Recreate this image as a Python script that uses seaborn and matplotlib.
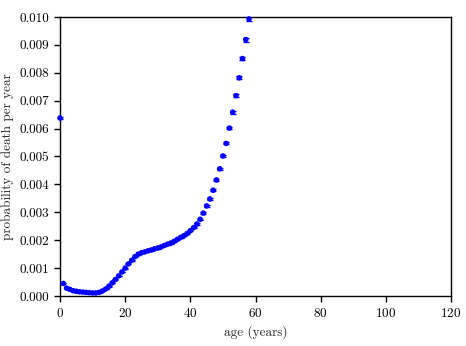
import numpy as np
import pandas as pd
import matplotlib
matplotlib.use("Agg")
import matplotlib.pyplot as plt
import seaborn as sns

# Annual probability of death by age, with standard errors
ages = list(range(0, 59))
death_prob = [
    0.00638, 0.00045, 0.00028, 0.00024, 0.00019, 0.00017, 0.00015, 0.00014,
    0.00013, 0.00012, 0.00011, 0.00011, 0.00013, 0.00018, 0.00025, 0.00035,
    0.00047, 0.00059, 0.00072, 0.00086, 0.00100, 0.00115, 0.00128, 0.00141,
    0.00150, 0.00155, 0.00158, 0.00162, 0.00165, 0.00169, 0.00172, 0.00176,
    0.00181, 0.00186, 0.00190, 0.00196, 0.00203, 0.00210, 0.00216, 0.00224,
    0.00234, 0.00245, 0.00258, 0.00275, 0.00297, 0.00323, 0.00348, 0.00379,
    0.00416, 0.00456, 0.00502, 0.00547, 0.00602, 0.00659, 0.00718, 0.00782,
    0.00851, 0.00919, 0.00993,
]
std_err = [
    0.00002, 0.00001, 0.00001, 0.00001, 0.00001, 0.00001, 0.00001, 0.00001,
    0.00001, 0.00001, 0.00001, 0.00001, 0.00001, 0.00001, 0.00001, 0.00001,
    0.00001, 0.00001, 0.00001, 0.00001, 0.00002, 0.00002, 0.00002, 0.00002,
    0.00002, 0.00002, 0.00002, 0.00002, 0.00002, 0.00002, 0.00002, 0.00002,
    0.00002, 0.00002, 0.00002, 0.00002, 0.00002, 0.00002, 0.00002, 0.00002,
    0.00002, 0.00002, 0.00002, 0.00002, 0.00003, 0.00003, 0.00003, 0.00003,
    0.00003, 0.00004, 0.00004, 0.00004, 0.00004, 0.00005, 0.00005, 0.00005,
    0.00006, 0.00007, 0.00008,
]

df = pd.DataFrame({"age": ages, "prob": death_prob, "err": std_err})

sns.set_theme(style="ticks")
plt.rcParams["font.family"] = ["cmr10", "DejaVu Serif"]
plt.rcParams["axes.formatter.use_mathtext"] = True
plt.rcParams["mathtext.fontset"] = "cm"

fig = plt.figure(figsize=(4.66, 3.46), dpi=100)
ax = fig.add_axes([0.1288, 0.1445, 0.8390, 0.8064])

ax.errorbar(df["age"], df["prob"], yerr=df["err"], fmt="none",
            ecolor="#0000ff", elinewidth=1.0, capsize=2.0, capthick=1.0,
            zorder=2)
sns.scatterplot(data=df, x="age", y="prob", ax=ax, color="#0000ff",
                s=16, edgecolor="none", linewidth=0, zorder=3, clip_on=False)

ax.set_xlim(0, 120)
ax.set_ylim(0, 0.010)
ax.set_xticks([0, 20, 40, 60, 80, 100, 120])
ax.set_yticks(np.arange(0, 0.0101, 0.001))
ax.set_yticklabels([f"{v:.3f}" for v in np.arange(0, 0.0101, 0.001)])

for sp in ax.spines.values():
    sp.set_visible(True)
    sp.set_color("black")
    sp.set_linewidth(1.0)

ax.tick_params(axis="both", direction="out", length=4, width=1.0,
               labelsize=9.5, colors="black", pad=4)
ax.tick_params(top=False, right=False)

ax.set_xlabel("age (years)", fontsize=9.5)
ax.set_ylabel("probability of death per year", fontsize=9.5)
ax.xaxis.set_label_coords(0.5, -0.103)
ax.yaxis.set_label_coords(-0.118, 0.5)

fig.savefig("out.png", dpi=100)
